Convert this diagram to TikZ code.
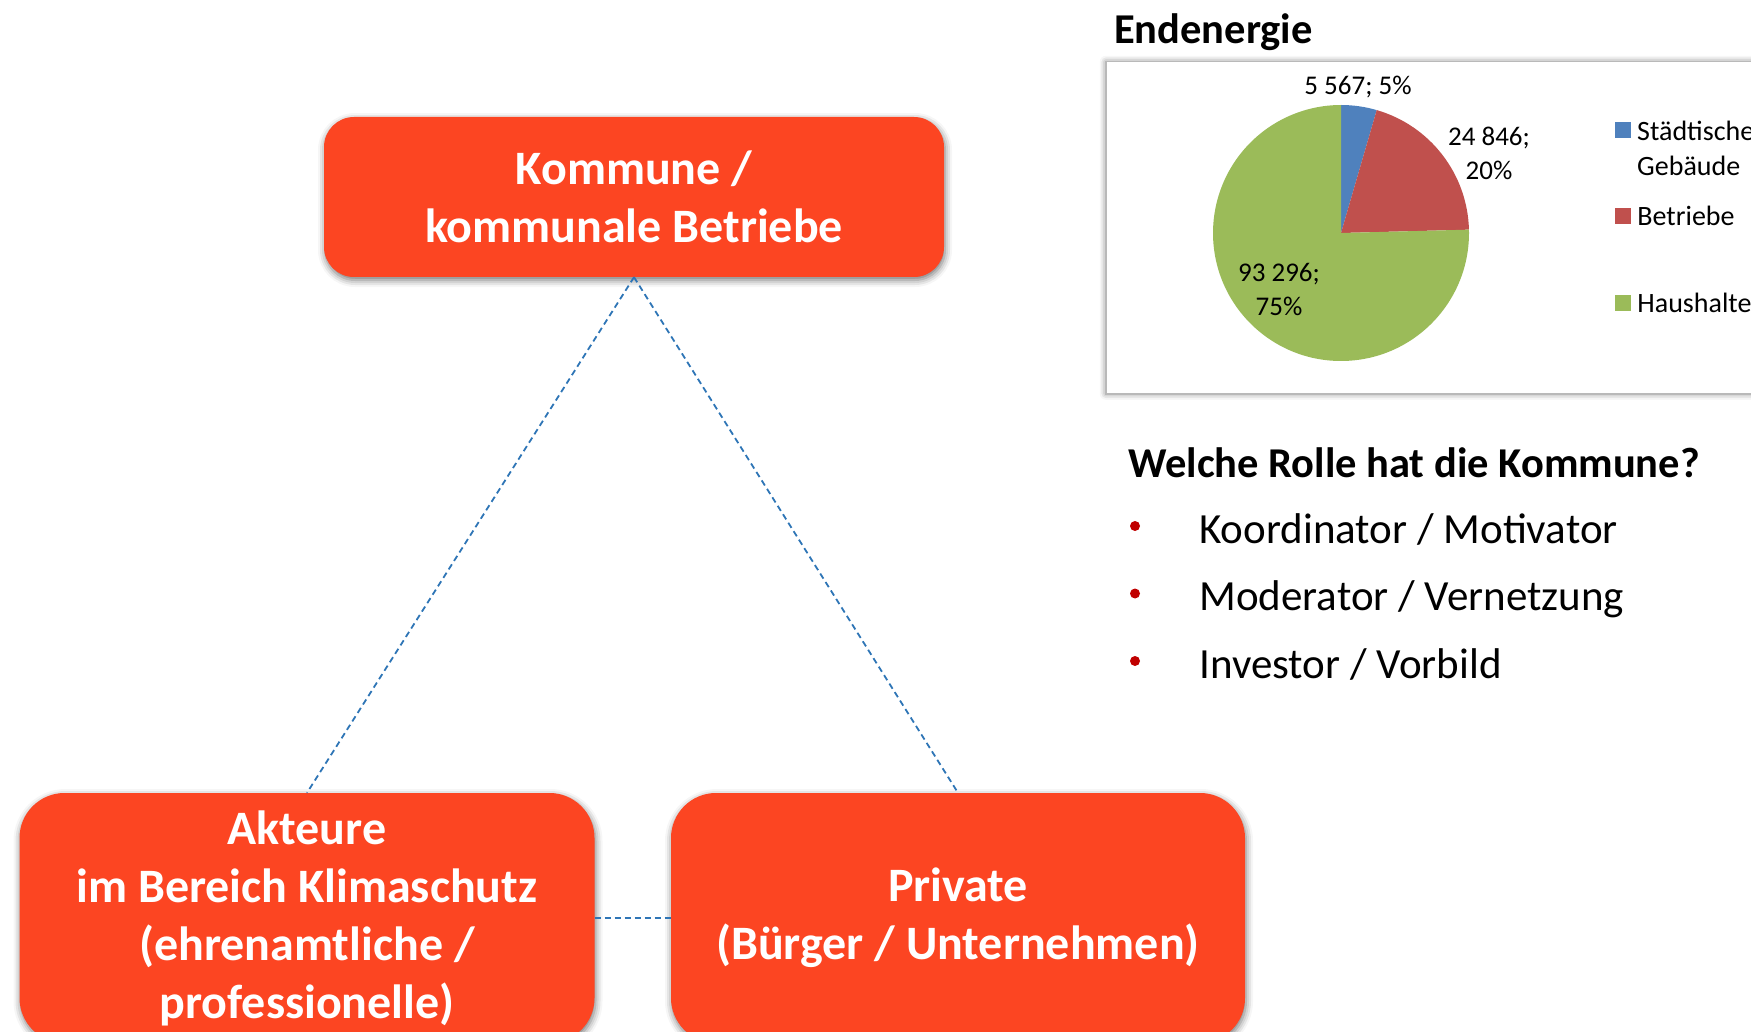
\documentclass[tikz,border=0pt]{standalone}
\usepackage{fontspec}
\setmainfont{Carlito}
\usetikzlibrary{positioning,shadows.blur}
\definecolor{kommunered}{HTML}{FC4522}
\definecolor{linkblue}{HTML}{2E75B6}
\definecolor{sliceblue}{HTML}{4F81BD}
\definecolor{slicered}{HTML}{C0504D}
\definecolor{slicegreen}{HTML}{9BBB59}
\definecolor{bulletred}{HTML}{C00000}

\begin{document}
\begin{tikzpicture}[
  x=1pt, y=-1pt,
  actor/.style={fill=kommunered, text=white, align=center,
    font=\bfseries\fontsize{48}{58}\selectfont,
    blur shadow={shadow xshift=1pt, shadow yshift=-3pt,
                 shadow blur radius=7pt, shadow opacity=55}},
  link/.style={draw=linkblue, line width=1.8pt, dash pattern=on 6pt off 4pt},
  heading/.style={font=\bfseries\fontsize{42.5}{50}\selectfont, anchor=west,
                  inner sep=0pt},
  role/.style={font=\fontsize{43}{50}\selectfont, anchor=west, inner sep=0pt,
               text height=34pt, text depth=0pt},
  datalabel/.style={font=\fontsize{27}{34}\selectfont, align=center,
                    inner sep=0pt},
  legendbox/.style={minimum size=16pt, inner sep=0pt},
  legendtext/.style={font=\fontsize{28}{35}\selectfont, align=left,
                     anchor=west, inner sep=0pt}
]
\useasboundingbox (0,0) rectangle (1751,1032);

% the three actors
\node[actor, rounded corners=30pt, minimum width=620pt, minimum height=160pt]
  (kommune) at (634,197) {Kommune /\\kommunale Betriebe};
\node[actor, rounded corners=45pt, minimum width=575pt, minimum height=250pt]
  (akteure) at (307,918)
  {Akteure\\im Bereich Klimaschutz\\(ehrenamtliche /\\professionelle)};
\node[actor, rounded corners=45pt, minimum width=574pt, minimum height=250pt]
  (private) at (958,918) {Private\\(Bürger / Unternehmen)};

\draw[link] (kommune.south) -- (akteure.north);
\draw[link] (kommune.south) -- (private.north);
\draw[link] (akteure.east) -- (private.west);

% chart
\node[heading] (titel) at (1114,32) {Endenergie};
\node[draw=gray!55, line width=1.5pt, fill=white, anchor=north west,
      minimum width=700pt, minimum height=332pt,
      blur shadow={shadow xshift=0pt, shadow yshift=0pt,
                   shadow blur radius=6pt, shadow opacity=50}]
  (chartframe) at (1105,61) {};

\coordinate (piectr) at (1341,233);
\begin{scope}[shift={(piectr)}, y=1pt]
  \fill[sliceblue] (0,0) -- (90:128)
    arc[start angle=90, end angle=73.8, radius=128] -- cycle;
  \fill[slicered] (0,0) -- (73.8:128)
    arc[start angle=73.8, end angle=1.5, radius=128] -- cycle;
  \fill[slicegreen] (0,0) -- (1.5:128)
    arc[start angle=1.5, end angle=-270, radius=128] -- cycle;
\end{scope}

\node[datalabel] (lblstadt) at (1358,87) {5 567; 5\%};
\node[datalabel] (lblbetr) at (1489,153) {24 846;\\20\%};
\node[datalabel] (lblhaus) at (1279,289) {93 296;\\75\%};

% legend
\node[legendbox, fill=sliceblue] (keystadt) at (1623,130) {};
\node[legendbox, fill=slicered] (keybetr) at (1623,216) {};
\node[legendbox, fill=slicegreen] (keyhaus) at (1623,303) {};
\node[legendtext] (txtstadt) at (1637,148) {Städtische\\Gebäude};
\node[legendtext, right=6pt of keybetr] (txtbetr) {Betriebe};
\node[legendtext, right=6pt of keyhaus] (txthaus) {Haushalte};

% roles
\node[heading] (frage) at (1128,463) {Welche Rolle hat die Kommune?};
\foreach \rolle [count=\i] in {Koordinator / Motivator,
    Moderator / Vernetzung, Investor / Vorbild} {
  \node[circle, fill=bulletred, inner sep=0pt, minimum size=10pt]
    (dot\i) at (1135,{526+67.5*(\i-1)}) {};
  \node[role, right=59pt of dot\i] (rolle\i) {\rolle};
}
\end{tikzpicture}
\end{document}
